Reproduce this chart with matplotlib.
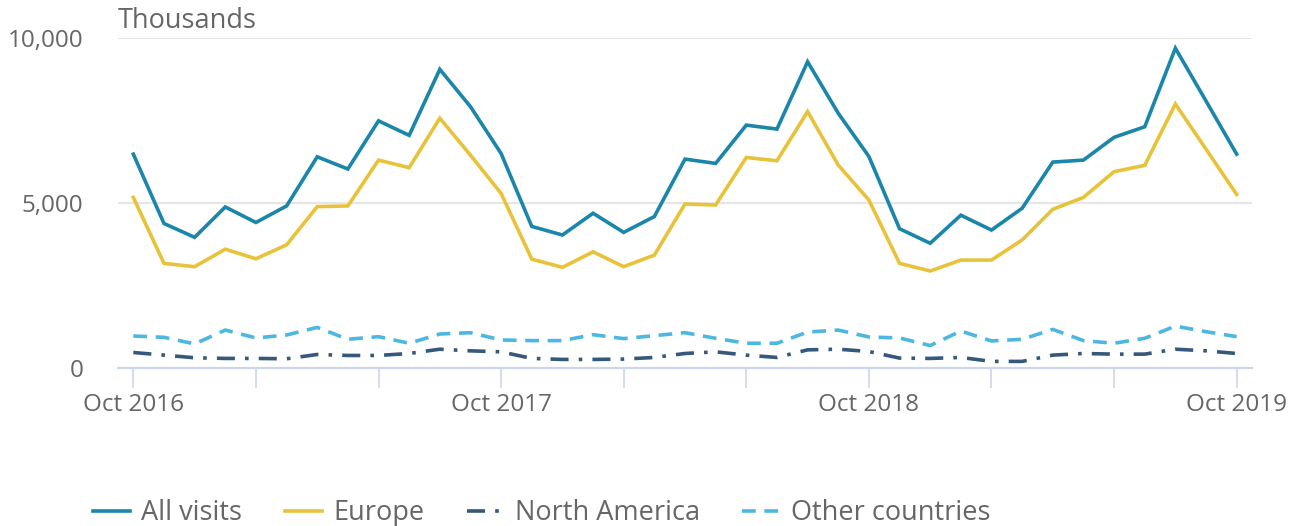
import numpy as np
import pandas as pd
import matplotlib
matplotlib.use("Agg")
import matplotlib.pyplot as plt

# monthly visits, thousands
months = pd.date_range("2016-10-01", "2019-10-01", freq="MS")

all_visits = [6480, 4380, 3960, 4880, 4410, 4910, 6400, 6030, 7490, 7050, 9050, 7920,
              6500, 4290, 4030, 4690, 4110, 4590, 6330, 6200, 7360, 7240, 9280, 7720,
              6410, 4220, 3780, 4630, 4180, 4840, 6240, 6300, 6990, 7310, 9690, 8090,
              6480]
europe = [5170, 3170, 3070, 3600, 3310, 3730, 4890, 4910, 6300, 6070, 7570, 6450,
          5290, 3300, 3050, 3520, 3070, 3420, 4970, 4940, 6380, 6280, 7770, 6150,
          5090, 3170, 2940, 3270, 3270, 3880, 4810, 5170, 5950, 6140, 8000, 6630,
          5260]
north_america = [470, 390, 310, 290, 290, 280, 410, 380, 380, 440, 570, 520,
                 490, 290, 260, 260, 270, 320, 440, 490, 390, 320, 550, 570,
                 500, 300, 290, 320, 200, 200, 390, 440, 420, 420, 570, 520,
                 440]
other_countries = [970, 930, 730, 1150, 910, 1000, 1230, 870, 950, 750, 1030, 1070,
                   850, 830, 830, 1010, 890, 980, 1070, 900, 750, 750, 1090, 1150,
                   940, 910, 680, 1120, 820, 870, 1170, 830, 750, 900, 1270, 1100,
                   950]

series = [
    ("All visits", all_visits, "#1a86a9", None),
    ("Europe", europe, "#e8c33a", None),
    ("North America", north_america, "#36587a", (5, 2.8, 1, 2.8)),
    ("Other countries", other_countries, "#4cb8e1", (3.8, 2.4)),
]

plt.rcParams["font.family"] = ["Open Sans", "DejaVu Sans"]
text_col = "#666666"
axis_col = "#ccd6eb"
fs = 17.5      # tick labels
fs_big = 19.5  # title + legend

fig = plt.figure(figsize=(12.98, 5.26), dpi=100)
ax = fig.add_axes([118 / 1298, 1 - 368 / 526, (1252 - 118) / 1298, (368 - 38) / 526])

x = np.arange(len(months))
for name, vals, col, dash in series:
    line, = ax.plot(x, vals, color=col, lw=2.6, label=name, solid_joinstyle="miter")
    if dash:
        line.set_dashes(dash)

ax.set_xlim(-0.5, len(months) - 0.5)
ax.set_ylim(0, 10000)
ax.set_yticks([0, 5000, 10000])
ax.set_yticklabels([f"{v:,}" for v in [0, 5000, 10000]])
ax.yaxis.grid(True, color="#e6e6e6", lw=1.5)
ax.set_axisbelow(True)

tick_pos = x[::4]
ax.set_xticks(tick_pos)
ax.set_xticklabels([m.strftime("%b %Y") if m.month == 10 else "" for m in months[::4]])

for side in ["top", "right", "left"]:
    ax.spines[side].set_visible(False)
ax.spines["bottom"].set_color(axis_col)
ax.spines["bottom"].set_linewidth(1.5)
ax.tick_params(axis="x", length=14.4, width=1.2, color=axis_col, labelcolor=text_col,
               labelsize=fs, pad=3.5)
ax.tick_params(axis="y", length=0, labelsize=fs, labelcolor=text_col, pad=25)

fig.text(118 / 1298, 1 - 21 / 526, "Thousands", fontsize=fs_big, color=text_col,
         ha="left", va="center")

fig.legend(loc="center left", bbox_to_anchor=(93 / 1298, 13 / 526), ncol=4,
           frameon=False, fontsize=fs_big, handlelength=1.37, handletextpad=0.41,
           columnspacing=1.57, borderpad=0, borderaxespad=0, labelcolor=text_col)

fig.savefig("out.png", dpi=100)
